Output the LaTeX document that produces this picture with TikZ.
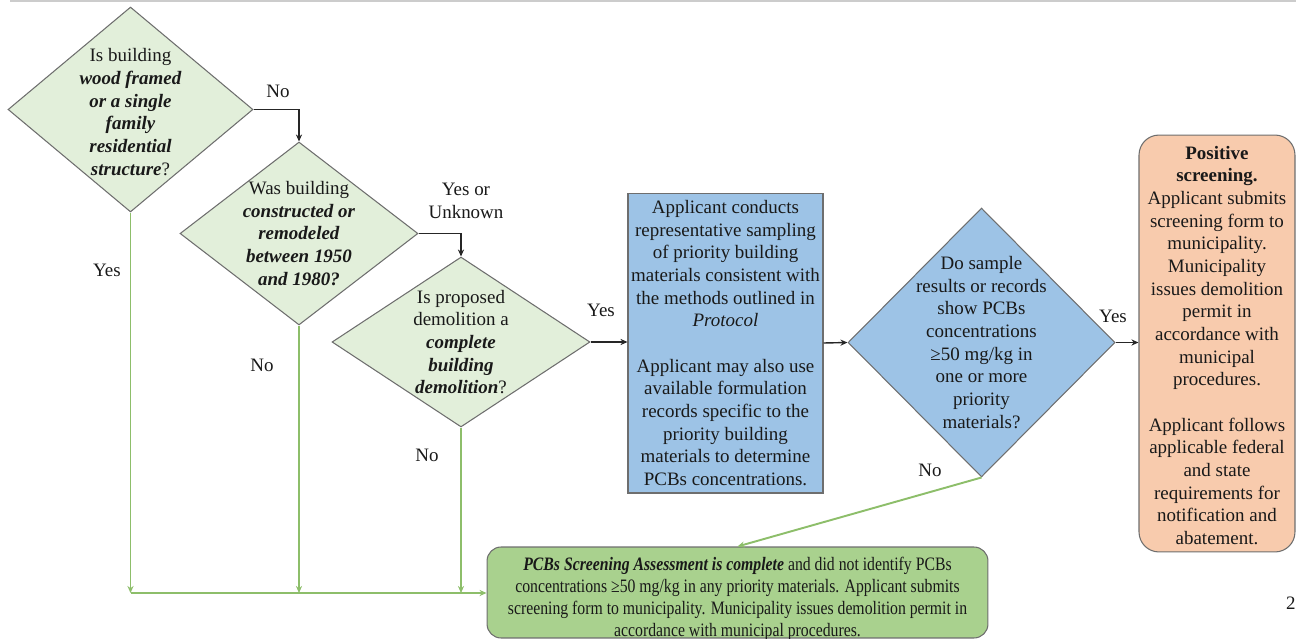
\documentclass[tikz,border=0pt]{standalone}
\usepackage{fontspec}
\setmainfont{Liberation Serif}
\usetikzlibrary{shapes.geometric,arrows.meta}
\definecolor{diafill}{HTML}{E2EFDA}
\definecolor{bluefill}{HTML}{9DC3E6}
\definecolor{orangefill}{HTML}{F8CBAD}
\definecolor{greenfill}{HTML}{A9D18E}
\definecolor{grnline}{HTML}{8DBE6A}
\definecolor{edge}{HTML}{6E6E6E}
\newcommand{\bi}[1]{\textbf{\textit{#1}}}
\begin{document}
\begin{tikzpicture}[x=0.02cm,y=-0.02cm,
  every node/.style={font=\fontsize{10.8}{12.9}\selectfont, text=black!90},
  dia/.style={diamond, draw=edge, line width=0.6pt, fill=diafill, inner sep=0pt},
  bdia/.style={diamond, draw=edge, line width=0.6pt, fill=bluefill, inner sep=0pt},
  tlab/.style={align=center, inner sep=0pt},
  blk/.style={draw=black!85, line width=0.8pt, -{Stealth[length=4pt,width=3.5pt]}},
  grn/.style={draw=grnline, line width=1.1pt, -{Stealth[length=4pt,width=3.5pt]}},
  lbl/.style={inner sep=0pt, align=center}]
\useasboundingbox (0,0) rectangle (1296,639);
\draw[black!20, line width=1.2pt] (10,1) -- (1296,1);

% decision 1
\node[dia, minimum width=4.9cm, minimum height=4.1cm,
  label={[tlab, yshift=-0.05cm]center:Is building\\\bi{wood framed}\\\bi{or a single}\\\bi{family}\\\bi{residential}\\\bi{structure}?}]
  (d1) at (130.5,109.5) {};
% decision 2
\node[dia, minimum width=4.76cm, minimum height=3.66cm,
  label={[tlab]center:Was building\\\bi{constructed or}\\\bi{remodeled}\\\bi{between 1950}\\\bi{and 1980?}}]
  (d2) at (299,233.5) {};
% decision 3
\node[dia, minimum width=5.16cm, minimum height=3.4cm,
  label={[tlab]center:Is proposed\\demolition a\\\bi{complete}\\\bi{building}\\\bi{demolition}?}]
  (d3) at (461,342) {};
% sampling box
\node[draw=edge, line width=0.6pt, fill=bluefill, minimum width=3.9cm, minimum height=6cm, inner sep=0pt,
  label={[tlab]center:Applicant conducts\\representative sampling\\of priority building\\materials consistent with\\the methods outlined in\\\textit{Protocol}\\[12.9pt]Applicant may also use\\available formulation\\records specific to the\\priority building\\materials to determine\\PCBs concentrations.}]
  (samp) at (725.5,343) {};
% decision 4
\node[bdia, minimum width=5.34cm, minimum height=5.38cm,
  label={[tlab]center:Do sample\\results or records\\show PCBs\\concentrations\\≥50 mg/kg in\\one or more\\priority\\materials?}]
  (d4) at (981.5,342.5) {};
% positive screening
\node[draw=edge, line width=0.6pt, fill=orangefill, rounded corners=0.4cm, minimum width=3.12cm, minimum height=8.34cm, inner sep=0pt,
  label={[tlab, yshift=-0.04cm]center:\textbf{Positive}\\\textbf{screening.}\\Applicant submits\\screening form to\\municipality.\\Municipality\\issues demolition\\permit in\\accordance with\\municipal\\procedures.\\[12.9pt]Applicant follows\\applicable federal\\and state\\requirements for\\notification and\\abatement.}]
  (pos) at (1217,343.5) {};
% complete box
\node[draw=edge, line width=0.6pt, fill=greenfill, rounded corners=0.28cm, minimum width=10.02cm, minimum height=1.82cm, inner sep=0pt,
  label={[tlab, font=\fontsize{10.8}{12.4}\selectfont, yshift=-0.13cm]center:\scalebox{0.83}[1]{\begin{tabular}{@{}c@{}}\bi{PCBs Screening Assessment is complete} and did not identify PCBs\\concentrations ≥50 mg/kg in any priority materials. Applicant submits\\screening form to municipality. Municipality issues demolition permit in\\accordance with municipal procedures.\end{tabular}}}]
  (done) at (737.5,592.5) {};

% black connectors
\draw[blk] (d1.east) -| (d2.north);
\draw[blk] (d2.east) -| (d3.north);
\draw[blk] (d3.east) -- (d3.east -| samp.west);
\draw[blk] (samp.east) -- (d4.west);
\draw[blk] (d4.east) -- (d4.east -| pos.west);

% green connectors
\coordinate (bus) at (130.5,593);
\draw[grn] (d1.south) -- (d1.south |- bus);
\draw[grn] (d2.south) -- (d2.south |- bus);
\draw[grn] (d3.south) -- (d3.south |- bus);
\draw[grn] (bus) -- (bus -| done.west);
\draw[grn] (d4.south) -- (done.north);

% labels
\node[lbl] (l1) at (278,91) {No};
\node[lbl] (l2) at (466,201) {Yes or\\Unknown};
\node[lbl] (l3) at (601,310) {Yes};
\node[lbl] (l4) at (1113,316) {Yes};
\node[lbl] (l5) at (107,270) {Yes};
\node[lbl] (l6) at (262,365) {No};
\node[lbl] (l7) at (427,455) {No};
\node[lbl] (l8) at (930,470) {No};
\node[lbl, anchor=east] (pg) at (1296,603) {2};
\end{tikzpicture}
\end{document}
